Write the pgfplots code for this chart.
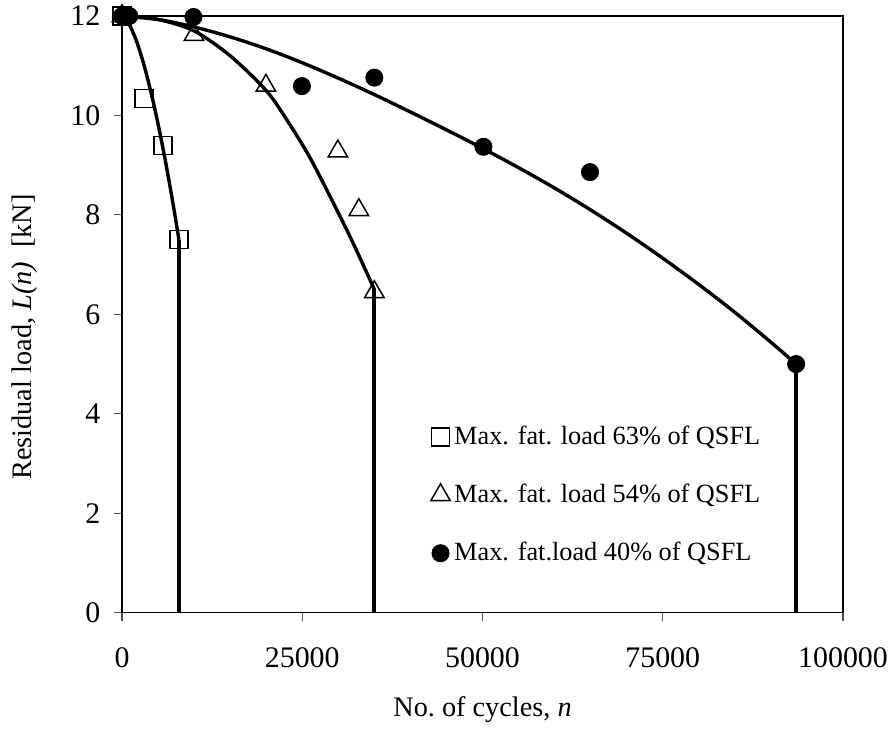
\documentclass[border=0pt]{standalone}
\usepackage{fontspec}
\setmainfont{Liberation Serif}
\usepackage{pgfplots}
\pgfplotsset{compat=1.18}
\pgfplotsset{narrowmark/.style={legend image code/.code={\draw[mark repeat=2,mark phase=2,##1] plot coordinates {(0cm,0cm)(0.17cm,0cm)(0.34cm,0cm)};}}}
\begin{document}
\fontsize{12.5}{15}\selectfont
\begin{tikzpicture}
\begin{axis}[
  scale only axis, width=360.5bp, height=298.35bp,
  xmin=0, xmax=100000, ymin=0, ymax=12,
  xtick={0,25000,50000,75000,100000}, ytick={0,2,4,6,8,10,12},
  scaled x ticks=false,
  /pgf/number format/fixed,
  /pgf/number format/1000 sep={},
  /pgf/number format/assume math mode=true,
  tick align=outside, tick pos=left, major tick length=4bp,
  axis line style={line width=0.7bp},
  tick style={line width=0.6bp, black!70},
  ticklabel style={font=\fontsize{15}{18}\selectfont},
  xticklabel style={anchor=north, yshift=-9.3bp},
  yticklabel style={anchor=east, xshift=-2.5bp},
  xlabel={No.\ of cycles, \textit{n}},
  ylabel={Residual load, \textit{L(n)}\ \ [kN]},
  label style={font=\fontsize{14.2}{17}\selectfont},
  xlabel style={at={(axis description cs:0.5,-0.1264)}, anchor=north},
  ylabel style={at={(axis description cs:-0.1051,0.462)}, anchor=south},
  legend style={at={(axis cs:41950,3.93)}, anchor=north west, draw=none, fill=none,
    row sep=14bp, font=\fontsize{13.2}{16}\selectfont},
  legend cell align=left,
]
% fitted curves
\addplot[forget plot, black, line width=1.7bp, smooth] coordinates {
(0,12)(1000,11.83)(2000,11.5)(3000,11.04)(4000,10.48)(5000,9.83)(6000,9.1)(7000,8.29)(7900,7.5)};
\addplot[forget plot, black, line width=1.7bp, smooth] coordinates {
(0,12)(5000,11.93)(10000,11.7)(15000,11.2)(20000,10.5)(23000,9.88)(26000,9.17)(29000,8.33)(32000,7.45)(35000,6.5)};
\addplot[forget plot, black, line width=1.7bp, smooth] coordinates {
(0,12)(5000,11.93)(10000,11.78)(15000,11.58)(20000,11.34)(25000,11.06)(30000,10.75)(35000,10.42)(40000,10.07)(45000,9.71)(50000,9.34)(55000,8.95)(60000,8.54)(65000,8.1)(70000,7.63)(75000,7.13)(80000,6.6)(85000,6.04)(90000,5.44)(93500,5.0)};
% vertical failure lines
\addplot[forget plot, black, line width=2bp] coordinates {(7900,7.5)(7900,0)};
\addplot[forget plot, black, line width=2bp] coordinates {(35000,6.5)(35000,0)};
\addplot[forget plot, black, line width=2bp] coordinates {(93500,5.0)(93500,0)};
% data
\addplot[only marks, mark=square, mark size=4.5bp, mark options={line width=0.75bp, fill=white, draw=black}, narrowmark]
  coordinates {(0,12)(3030,10.34)(5660,9.40)(7880,7.51)};
\addlegendentry{Max. fat. load 63\% of QSFL}
\addplot[only marks, mark=triangle, mark size=5.6bp, mark options={line width=0.75bp, fill=white, draw=black}, narrowmark]
  coordinates {(0,12)(9980,11.62)(19960,10.6)(29940,9.28)(32850,8.1)(35000,6.45)};
\addlegendentry{Max. fat. load 54\% of QSFL}
\addplot[only marks, mark=*, mark size=4.3bp, mark options={fill=black, draw=black}, narrowmark]
  coordinates {(0,12)(1000,12)(9910,11.98)(24950,10.59)(35000,10.76)(50130,9.37)(64910,8.86)(93500,5.0)};
\addlegendentry{Max. fat.load 40\% of QSFL}
\end{axis}
\pgfresetboundingbox
\path ([shift={(-61bp,-59.5bp)}]current axis.south west) rectangle ([shift={(24bp,8bp)}]current axis.north east);
\end{tikzpicture}
\end{document}
